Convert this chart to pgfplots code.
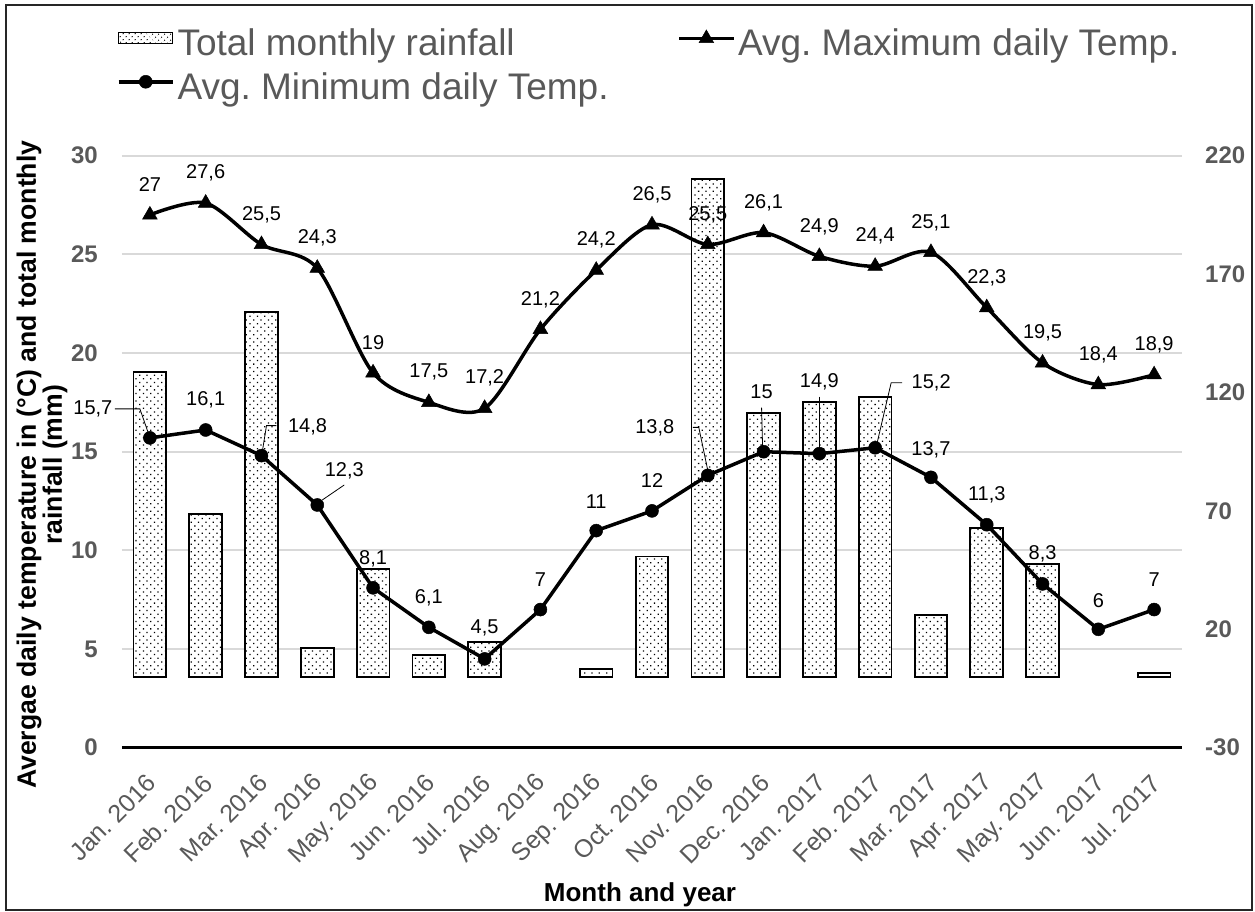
\documentclass[border=0pt]{standalone}
\usepackage{fontspec}
\setmainfont{Liberation Sans}
\usepackage{pgfplots}
\pgfplotsset{compat=1.18}
\usepackage{pgfplotstable}
\usetikzlibrary{patterns.meta}
\definecolor{tickgray}{HTML}{595959}
\definecolor{gridgray}{HTML}{D9D9D9}
\newcommand\fs[1]{\fontsize{#1}{#1}\selectfont}
\frenchspacing

\pgfplotstableread{
x y
0 128.8
1 68.6
2 153.9
3 12.2
4 45.6
5 9.2
6 14.5
8 3.1
9 50.7
10 210.1
11 111.2
12 116.1
13 118.0
14 26.1
15 62.9
16 47.6
18 1.7
}\raintab

\pgfplotstableread{
x y
0 27
1 27.6
2 25.5
3 24.3
4 19
5 17.5
6 17.2
7 21.2
8 24.2
9 26.5
10 25.5
11 26.1
12 24.9
13 24.4
14 25.1
15 22.3
16 19.5
17 18.4
18 18.9
}\maxtab

\pgfplotstableread{
x y dx dy
0 15.7 -57 29
1 16.1 0 30
2 14.8 46 29
3 12.3 27 34
4 8.1 0 29
5 6.1 0 30
6 4.5 0 31
7 7 0 30
8 11 0 29
9 12 0 30
10 13.8 -53 48
11 15 -2 60
12 14.9 0 72
13 15.2 56 65
14 13.7 0 28
15 11.3 0 30
16 8.3 0 30
17 6 0 29
18 7 0 30
}\mintab

\begin{document}
\frenchspacing
\begin{tikzpicture}
\pgfplotsset{common/.style={scale only axis, width=1060pt, height=592pt,
  at={(0pt,0pt)}, anchor=south west, xmin=-0.5, xmax=18.5,
  /pgf/number format/assume math mode=true, /pgf/number format/use comma}}
% axis 1: grid, left ticks, x labels, titles
\begin{axis}[common, ymin=0, ymax=30, ytick={0,5,...,30}, xtick={0,...,18},
  xticklabels={Jan. 2016,Feb. 2016,Mar. 2016,Apr. 2016,May. 2016,Jun. 2016,Jul. 2016,Aug. 2016,Sep. 2016,Oct. 2016,Nov. 2016,Dec. 2016,Jan. 2017,Feb. 2017,Mar. 2017,Apr. 2017,May. 2017,Jun. 2017,Jul. 2017},
  ymajorgrids, major grid style={draw=gridgray, line width=2pt},
  axis x line*=bottom, axis y line*=left, axis line style={-},
  x axis line style={line width=2.5pt, black}, y axis line style={draw=none},
  major tick length=0pt,
  yticklabel style={anchor=east, inner sep=0pt, xshift=-24pt, font=\bfseries\fs{24}, text=tickgray},
  xticklabel style={font=\fs{25}, text=tickgray, inner sep=0pt, yshift=-31pt, xshift=2pt, rotate=45, anchor=east},
  xlabel={Month and year},
  xlabel style={font=\bfseries\fs{26}, at={(rel axis cs:0.4887,-0.2606)}, anchor=base},
  ylabel={Avergae daily temperature in (°C) and total monthly\\rainfall (mm)},
  ylabel style={font=\bfseries\fontsize{26.6}{23}\selectfont, align=center, at={(rel axis cs:-0.0755,0.478)}, anchor=center},
]
\end{axis}
% axis 2: rainfall bars, right axis
\begin{axis}[common, ymin=-30, ymax=220, ytick={-30,20,...,220}, xtick=\empty,
  axis y line*=right, axis x line=none, axis line style={-}, y axis line style={draw=none},
  major tick length=0pt,
  yticklabel style={anchor=west, inner sep=0pt, xshift=23pt, font=\bfseries\fs{24}, text=tickgray},
  ybar, bar width=32.7pt, bar shift=0pt]
\addplot[fill=white, draw=black, line width=1.8pt,
  postaction={pattern={Dots[distance=5.2pt, angle=45, radius=0.9pt]}}] table[x=x,y=y] {\raintab};
\end{axis}
% axis 3: temperature lines + legend
\begin{axis}[common, ymin=0, ymax=30, hide axis, clip=false,
  legend columns=2,
  legend image code/.code={\draw[mark repeat=2, mark phase=2, yshift=8pt, #1] plot coordinates {(0pt,0pt) (27pt,0pt) (54pt,0pt)};},
  legend style={draw=none, fill=none, inner sep=0pt, outer sep=0pt,
    at={(rel axis cs:0,1)}, anchor=north west, xshift=-5pt, yshift=126.7pt,
    font=\fs{37}, text=tickgray, row sep=8.3pt,
    nodes={inner sep=0pt, text height=27pt, text depth=8pt},
    /tikz/every odd column/.style={column sep=3pt},
    /tikz/every even column/.style={column sep=69pt}},
  legend cell align=left]
\addlegendimage{legend image code/.code={\draw[fill=white, draw=black, line width=1.2pt,
  postaction={pattern={Dots[distance=4pt, angle=45, radius=0.7pt]}}] (0pt,3pt) rectangle (54pt,14pt);}}
\addlegendentry{Total monthly rainfall}
\addplot[black, line width=3.5pt, smooth, mark=triangle*, mark size=8.5pt,
  mark options={solid, line width=0.5pt},
  nodes near coords,
  every node near coord/.append style={font=\fs{20}, text=black, anchor=center, yshift=30pt}]
  table[x=x,y=y] {\maxtab};
\addlegendentry{Avg. Maximum daily Temp.}
\addplot[black, line width=3.5pt, mark=*, mark size=6.5pt,
  mark options={solid, line width=0.5pt},
  visualization depends on={\thisrow{dx} \as \labdx},
  visualization depends on={\thisrow{dy} \as \labdy},
  nodes near coords,
  every node near coord/.append style={font=\fs{20}, text=black, anchor=center, xshift=\labdx pt, yshift=\labdy pt}]
  table[x=x,y=y] {\mintab};
\addlegendentry{Avg. Minimum daily Temp.}
% leader lines
\draw[black, line width=0.8pt] (axis cs:0,15.7) ++(-35pt,29pt) -- ++(25pt,0pt) -- ++(8pt,-23pt);
\draw[black, line width=0.8pt] (axis cs:2,14.8) ++(15pt,30pt) -- ++(-10pt,0pt) -- ++(-4pt,-25pt);
\draw[black, line width=0.8pt] (axis cs:3,12.3) ++(27pt,20pt) -- ++(-22pt,-15pt);
\draw[black, line width=0.8pt] (axis cs:10,13.8) ++(-15pt,48pt) -- ++(6pt,0pt) -- ++(9pt,-43pt);
\draw[black, line width=0.8pt] (axis cs:11,15) ++(-2pt,44pt) -- ++(1pt,-39pt);
\draw[black, line width=0.8pt] (axis cs:12,14.9) ++(0pt,57pt) -- ++(0pt,-51pt);
\draw[black, line width=0.8pt] (axis cs:13,15.2) ++(27pt,65pt) -- ++(-11pt,0pt) -- ++(-14pt,-60pt);
\end{axis}
\pgfresetboundingbox
\path (-122pt,-164.3pt) rectangle (1133pt,747.7pt);
\draw[line width=2pt, black!85] (-116pt,-162.3pt) rectangle (1130pt,742.7pt);
\end{tikzpicture}
\end{document}
